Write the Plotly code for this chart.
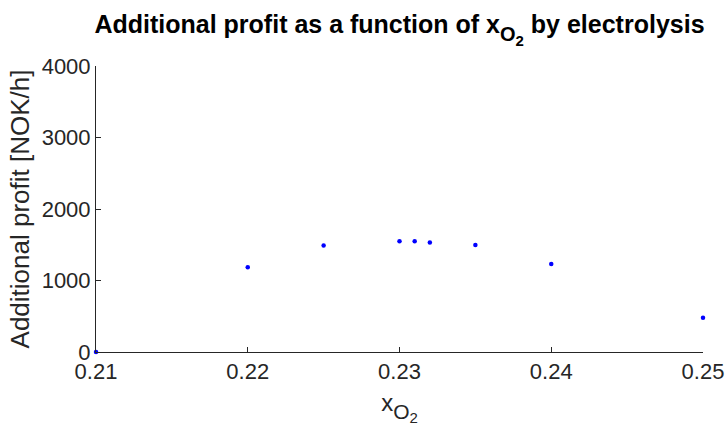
import plotly.graph_objects as go

x_o2 = [0.21, 0.22, 0.225, 0.23, 0.231, 0.232, 0.235, 0.24, 0.25]
profit = [0, 1187, 1489, 1549, 1549, 1531, 1497, 1230, 479]
x_ticks = [0.21, 0.22, 0.23, 0.24, 0.25]
x_tick_text = ["0.21", "0.22", "0.23", "0.24", "0.25"]
y_ticks = [0, 1000, 2000, 3000, 4000]

axis_color = "#262626"
font_family = "Liberation Sans, Arial, sans-serif"


def xo2(o_size, two_size):
    # x with subscript O and sub-subscript 2 (TeX style x_{O_2})
    return ("x<sub><sub><span style='font-size:%dpx'>O</span>"
            "<sub><sub><span style='font-size:%dpx'>2</span></sub></sub></sub></sub>"
            % (o_size, two_size))


fig = go.Figure()
fig.add_trace(go.Scatter(
    x=x_o2, y=profit, mode="markers",
    marker=dict(color="#0000ff", size=4.5),
    cliponaxis=False, showlegend=False,
))

fig.update_layout(
    width=726, height=433,
    margin=dict(l=96, r=23, t=66, b=81),
    paper_bgcolor="white", plot_bgcolor="white",
    font=dict(family=font_family, size=22, color=axis_color),
    title=dict(
        text="<b>Additional profit as a function of " + xo2(20, 15) + " by electrolysis</b>",
        x=0.5, xref="paper", xanchor="center", y=0.945, yanchor="middle",
        font=dict(family=font_family, size=25, color="black"),
        automargin=False,
    ),
)
fig.update_xaxes(
    range=[0.21, 0.25], tickvals=x_ticks, ticktext=x_tick_text,
    ticks="inside", ticklen=5, tickcolor=axis_color,
    showline=True, linecolor=axis_color, linewidth=1,
    showgrid=False, zeroline=False, automargin=False,
    title=dict(text=xo2(21, 15), font=dict(size=24), standoff=10),
)
fig.update_yaxes(
    range=[0, 4000], tickvals=y_ticks,
    ticks="inside", ticklen=5, tickcolor=axis_color,
    showline=True, linecolor=axis_color, linewidth=1,
    showgrid=False, zeroline=False, automargin=False,
    title=dict(text="Additional profit [NOK/h]", font=dict(size=26), standoff=4),
)

fig.write_html("out.html")
